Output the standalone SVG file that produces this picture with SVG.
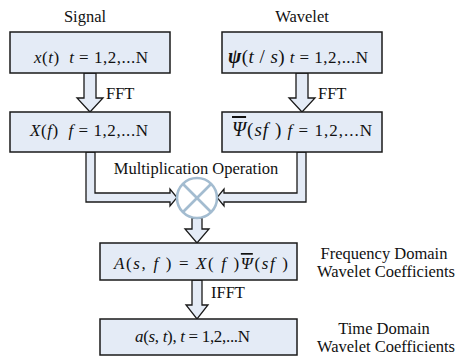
<svg xmlns="http://www.w3.org/2000/svg" width="457" height="356" viewBox="0 0 457 356" font-family="Liberation Serif, Times New Roman, serif">
  <style>
    .box { fill: #e4ebf6; stroke: #1a1a1a; stroke-width: 1.5; }
    .arrow { fill: #e4ebf6; stroke: #1a1a1a; stroke-width: 1.3; stroke-linejoin: miter; }
    .lbl { font-size: 16.5px; fill: #111; }
    .math { font-size: 17px; fill: #111; }
    .it { font-style: italic; }
    .bar { text-decoration: overline; }
    .op { fill: #ffffff; stroke: #a3bcd0; stroke-width: 2.6; }
    .opx { stroke: #a3bcd0; stroke-width: 2.6; }
  </style>

  <!-- column captions -->
  <text class="lbl" x="85" y="22" text-anchor="middle">Signal</text>
  <text class="lbl" x="302" y="22" text-anchor="middle">Wavelet</text>

  <!-- block arrows -->
  <g id="connectors">
    <polygon class="arrow" points="84,73 96,73 96,98 103,98 90,112 77,98 84,98"/>
    <polygon class="arrow" points="296,73 308,73 308,98 315,98 302,112 289,98 296,98"/>
    <polygon class="arrow" points="86,152 95,152 95,193 170,193 170,189 177,197.5 170,206 170,202 86,202"/>
    <polygon class="arrow" points="297,152 306,152 306,202 224,202 224,206 217,197.5 224,189 224,193 297,193"/>
    <polygon class="arrow" points="192,218 202,218 202,229 209,229 197,243 185,229 192,229"/>
    <polygon class="arrow" points="192,280 202,280 202,305 208,305 197,319 186,305 192,305"/>
    <text class="lbl" x="106" y="99">FFT</text>
    <text class="lbl" x="318" y="99">FFT</text>
    <text class="lbl" x="211" y="298">IFFT</text>
  </g>

  <g id="signal">
    <rect class="box" x="10" y="32" width="160" height="41"/>
    <text class="math" x="34" y="63" textLength="114" lengthAdjust="spacing" xml:space="preserve"><tspan class="it">x</tspan>(<tspan class="it">t</tspan>)  <tspan class="it">t</tspan> = 1,2,...N</text>
  </g>

  <g id="wavelet">
    <rect class="box" x="222" y="32" width="160" height="41"/>
    <text class="math" x="228" y="63" textLength="140" lengthAdjust="spacing"><tspan class="it" font-weight="bold" font-size="20">ψ</tspan><tspan font-size="19">(</tspan><tspan class="it" font-size="19">t</tspan><tspan font-size="19"> / </tspan><tspan class="it" font-size="19">s</tspan><tspan font-size="19">)</tspan> <tspan class="it">t</tspan> = 1,2,...N</text>
  </g>

  <g id="signal-spectrum">
    <rect class="box" x="10" y="112" width="160" height="40"/>
    <text class="math" x="30" y="136" textLength="118" lengthAdjust="spacing" xml:space="preserve"><tspan class="it">X</tspan>(<tspan class="it">f</tspan>)  <tspan class="it">f</tspan> = 1,2,...N</text>
  </g>

  <g id="wavelet-spectrum">
    <rect class="box" x="222" y="112" width="160" height="40"/>
    <text class="math" x="232" y="136" textLength="140" lengthAdjust="spacing"><tspan class="it bar" font-size="20">Ψ</tspan><tspan font-size="19">(</tspan><tspan class="it" font-size="19">sf</tspan><tspan font-size="19"> )</tspan> <tspan class="it">f</tspan> = 1,2,...N</text>
  </g>

  <g id="multiply">
    <text class="lbl" x="196" y="174" text-anchor="middle">Multiplication Operation</text>
    <circle class="op" cx="197" cy="198" r="20"/>
    <line class="opx" x1="183" y1="184" x2="211" y2="212"/>
    <line class="opx" x1="211" y1="184" x2="183" y2="212"/>
  </g>

  <g id="freq-coeff">
    <rect class="box" x="100" y="243" width="197" height="37"/>
    <text class="math" x="114" y="269" font-size="22" textLength="174" lengthAdjust="spacing" xml:space="preserve"><tspan class="it">A</tspan>(<tspan class="it">s</tspan>, <tspan class="it">f</tspan> ) = <tspan class="it">X</tspan>( <tspan class="it">f</tspan> )<tspan class="it bar">Ψ</tspan>(<tspan class="it">sf</tspan> )</text>
    <text class="lbl" x="384" y="259" text-anchor="middle">Frequency Domain</text>
    <text class="lbl" x="386" y="277" text-anchor="middle">Wavelet Coefficients</text>
  </g>

  <g id="time-coeff">
    <rect class="box" x="100" y="319" width="197" height="36"/>
    <text class="math" x="135" y="342" textLength="115" lengthAdjust="spacing"><tspan class="it">a</tspan>(<tspan class="it">s</tspan>, <tspan class="it">t</tspan>), <tspan class="it">t</tspan> = 1,2,...N</text>
    <text class="lbl" x="384" y="334" text-anchor="middle">Time Domain</text>
    <text class="lbl" x="386" y="352" text-anchor="middle">Wavelet Coefficients</text>
  </g>
</svg>
